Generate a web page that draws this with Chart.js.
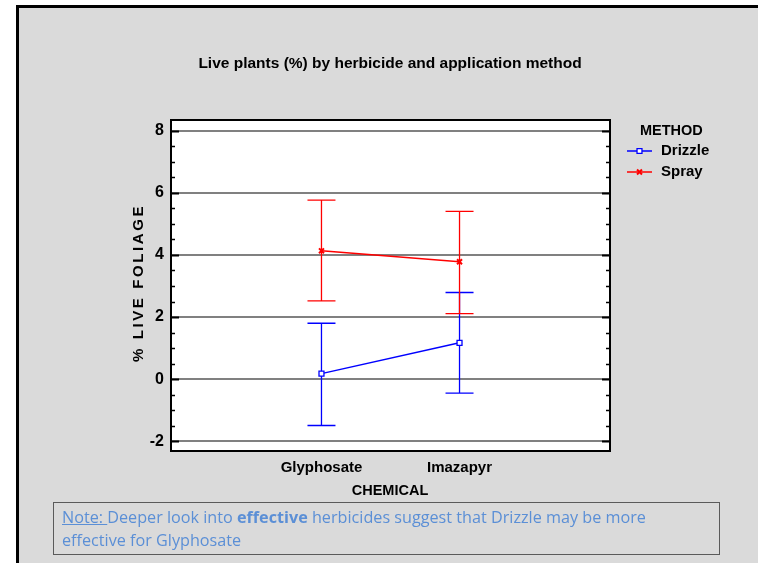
<!DOCTYPE html>
<html>
<head>
<meta charset="utf-8">
<script src="https://cdn.jsdelivr.net/npm/chart.js@4.4.1/dist/chart.umd.min.js"></script>
<style>
  html, body { margin: 0; padding: 0; background: #ffffff; width: 758px; height: 563px; overflow: hidden; }
  #frame { position: absolute; left: 16px; top: 5px; width: 742px; height: 558px; background: #dadada;
           border-left: 3px solid #000; border-top: 3px solid #000; box-sizing: border-box; }
  #wrap { position: absolute; left: 0; top: 0; width: 758px; height: 563px; }
  #note { position: absolute; left: 53px; top: 502px; width: 667px; height: 53px; box-sizing: border-box;
          border: 1px solid #5a5a5a; padding: 3px 8px 0 8px; color: #5b8fd6; white-space: nowrap;
          font-family: "Open Sans", "Noto Sans", sans-serif; font-size: 16.2px; line-height: 23px; }
  #note u { text-decoration: underline; }
</style>
</head>
<body>
<div id="frame"></div>
<div id="wrap"><canvas id="c" width="758" height="563"></canvas></div>
<div id="note"><u>Note: </u>Deeper look into <b>effective</b> herbicides suggest that Drizzle may be more<br>effective for Glyphosate</div>
<script>
// ---- data ----
const categories = ['Glyphosate', 'Imazapyr'];
const seriesNames = ['Drizzle', 'Spray'];
const drizzleMean = [0.18, 1.17];
const drizzleLow  = [-1.49, -0.45];
const drizzleHigh = [1.80, 2.79];
const sprayMean = [4.13, 3.78];
const sprayLow  = [2.52, 2.11];
const sprayHigh = [5.76, 5.40];
const yTicks = [-2, 0, 2, 4, 6, 8];
const chartTitle = 'Live plants (%) by herbicide and application method';
const xTitle = 'CHEMICAL';
const yTitle = '% LIVE FOLIAGE';
const legendTitle = 'METHOD';

const FONT = '"Liberation Sans", Arial, sans-serif';

function pts(arr) { return arr.map((v, i) => ({ x: i + 1, y: v })); }

const errorBars = {
  id: 'errorBars',
  beforeDatasetsDraw(chart) {
    const ctx = chart.ctx, xs = chart.scales.x, ys = chart.scales.y;
    chart.data.datasets.forEach(ds => {
      ctx.save();
      ctx.strokeStyle = ds.borderColor;
      ctx.lineWidth = 1.3;
      ds.low.forEach((lo, i) => {
        const x = xs.getPixelForValue(i + 1);
        const y1 = ys.getPixelForValue(lo), y2 = ys.getPixelForValue(ds.high[i]);
        ctx.beginPath();
        ctx.moveTo(x, y1); ctx.lineTo(x, y2);
        ctx.moveTo(x - 14, y1); ctx.lineTo(x + 14, y1);
        ctx.moveTo(x - 14, y2); ctx.lineTo(x + 14, y2);
        ctx.stroke();
      });
      ctx.restore();
    });
  }
};

const frameDeco = {
  id: 'frameDeco',
  beforeDraw(chart) {
    const { ctx, chartArea: a } = chart;
    ctx.save();
    ctx.fillStyle = '#ffffff';
    ctx.fillRect(a.left, a.top, a.right - a.left, a.bottom - a.top);
    ctx.restore();
  },
  afterDatasetsDraw(chart) {
    const { ctx, chartArea: a } = chart;
    const ys = chart.scales.y;
    ctx.save();
    ctx.strokeStyle = '#000';
    for (let v = -2; v <= 8; v += 0.5) {
      const y = Math.round(ys.getPixelForValue(v)) + 0.5;
      const major = Math.abs(v % 2) < 1e-9;
      const len = major ? 8 : 4;
      ctx.lineWidth = major ? 2 : 1.5;
      ctx.beginPath();
      ctx.moveTo(a.left, y); ctx.lineTo(a.left + len, y);
      ctx.moveTo(a.right, y); ctx.lineTo(a.right - len, y);
      ctx.stroke();
    }
    ctx.lineWidth = 2;
    ctx.strokeRect(a.left, a.top, a.right - a.left, a.bottom - a.top);
    ctx.restore();
  }
};

const texts = {
  id: 'texts',
  afterDraw(chart) {
    const ctx = chart.ctx;
    ctx.save();
    ctx.fillStyle = '#000';
    ctx.textBaseline = 'middle';
    ctx.textAlign = 'center';
    ctx.font = 'bold 15.5px ' + FONT;
    ctx.fillText(chartTitle, 390, 64);
    ctx.font = 'bold 14.5px ' + FONT;
    ctx.fillText(xTitle, 390, 491);
    ctx.save();
    ctx.translate(139, 283);
    ctx.rotate(-Math.PI / 2);
    ctx.font = 'bold 15px ' + FONT;
    ctx.letterSpacing = '2.6px';
    ctx.fillText(yTitle, 0, 0);
    ctx.restore();
    ctx.textAlign = 'left';
    ctx.font = 'bold 14.5px ' + FONT;
    ctx.fillText(legendTitle, 640, 131);
    const rows = [151, 172];
    ctx.font = 'bold 15px ' + FONT;
    chart.data.datasets.forEach((ds, i) => {
      const y = rows[i];
      ctx.strokeStyle = ds.borderColor;
      ctx.lineWidth = 1.5;
      ctx.beginPath(); ctx.moveTo(627, y); ctx.lineTo(652, y); ctx.stroke();
      ctx.fillStyle = ds.pointBackgroundColor;
      ctx.strokeStyle = ds.pointBorderColor;
      ctx.lineWidth = ds.pointBorderWidth;
      Chart.helpers.drawPoint(ctx, {
        pointStyle: ds.pointStyle, radius: ds.pointRadius, borderWidth: ds.pointBorderWidth, rotation: 0
      }, 639.5, y);
      ctx.fillStyle = '#000';
      ctx.fillText(ds.label, 661, y);
    });
    ctx.restore();
  }
};

new Chart(document.getElementById('c'), {
  type: 'scatter',
  data: {
    datasets: [
      { label: seriesNames[0], data: pts(drizzleMean), low: drizzleLow, high: drizzleHigh,
        showLine: true, borderColor: '#0000ff', backgroundColor: '#ffffff', borderWidth: 1.5,
        pointStyle: 'rect', pointRadius: 3.5, pointBorderWidth: 1.3, pointBackgroundColor: '#ffffff',
        pointBorderColor: '#0000ff' },
      { label: seriesNames[1], data: pts(sprayMean), low: sprayLow, high: sprayHigh,
        showLine: true, borderColor: '#ff0000', backgroundColor: '#ff0000', borderWidth: 1.5,
        pointStyle: 'crossRot', pointRadius: 3.5, pointBorderWidth: 2, pointBackgroundColor: '#ff0000',
        pointBorderColor: '#ff0000' }
    ]
  },
  options: {
    responsive: false,
    animation: false,
    devicePixelRatio: 1,
    layout: { padding: { left: 0, top: 120, right: 148, bottom: 72 } },
    plugins: { legend: { display: false }, title: { display: false }, tooltip: { enabled: false } },
    scales: {
      x: {
        type: 'linear', min: -0.09, max: 3.09,
        afterBuildTicks(s) { s.ticks = categories.map((c, i) => ({ value: i + 1 })); },
        afterFit(s) { s.height = 40; },
        ticks: { callback: v => categories[v - 1], color: '#000', padding: 0,
                 font: { family: FONT, size: 15, weight: 'bold' } },
        grid: { display: false }, border: { display: false }
      },
      y: {
        type: 'linear', min: -2.31, max: 8.34,
        afterBuildTicks(s) { s.ticks = yTicks.map(v => ({ value: v })); },
        afterFit(s) { s.width = 171; },
        ticks: { color: '#000', padding: 7, font: { family: FONT, size: 16, weight: 'bold' } },
        grid: { color: '#808080', lineWidth: 2, drawTicks: false }, border: { display: false }
      }
    }
  },
  plugins: [frameDeco, errorBars, texts]
});
</script>
</body>
</html>
